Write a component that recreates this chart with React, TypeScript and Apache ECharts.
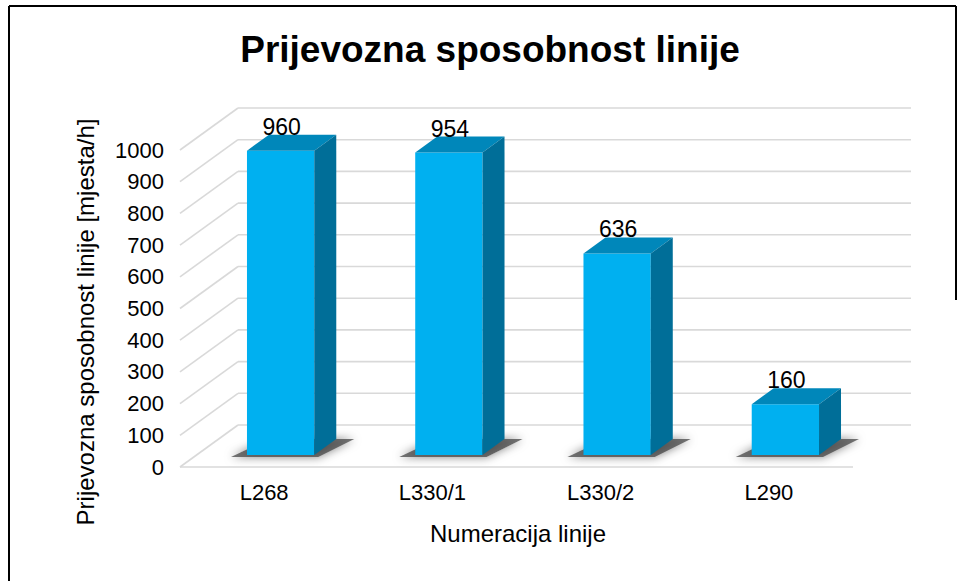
import React, { useEffect, useRef } from "react";
import * as echarts from "echarts";

const categories = ["L268", "L330/1", "L330/2", "L290"];
const values = [960, 954, 636, 160];
const yTicks = [0, 100, 200, 300, 400, 500, 600, 700, 800, 900, 1000];
const chartTitle = "Prijevozna sposobnost linije";
const yAxisTitle = "Prijevozna sposobnost linije [mjesta/h]";
const xAxisTitle = "Numeracija linije";

const FONT = '"Liberation Sans", Arial, sans-serif';

export default function App() {
  const ref = useRef<HTMLDivElement>(null);
  useEffect(() => {
    if (!ref.current) return;
    const chart = echarts.init(ref.current, null, { renderer: "svg" });
    const DX = 58, DY = -42; // depth of the floor / side wall
    const BX = 16.5, BY = -12; // bar front plane offset
    const bdx = 22, bdy = -16; // bar depth
    const option: any = {
      animation: false,
      backgroundColor: "#ffffff",
      grid: { left: 180, right: 105, top: 150, bottom: 114 },
      xAxis: {
        type: "category",
        data: categories,
        axisLine: { show: false },
        axisTick: { show: false },
        axisLabel: { fontSize: 22, color: "#000", fontFamily: FONT, margin: 14 },
      },
      yAxis: {
        type: "value",
        min: 0,
        max: 1000,
        interval: 100,
        axisLine: { show: false },
        axisTick: { show: false },
        splitLine: { show: false },
        axisLabel: {
          fontSize: 22,
          color: "#000",
          fontFamily: FONT,
          margin: 16,
          formatter: (v: number) => String(v),
        },
      },
      graphic: [
        {
          type: "line",
          shape: { x1: 9, y1: 6, x2: 9, y2: 581 },
          style: { stroke: "#000", lineWidth: 2 },
        },
        {
          type: "line",
          shape: { x1: 9, y1: 6, x2: 956, y2: 6 },
          style: { stroke: "#000", lineWidth: 2 },
        },
        {
          type: "line",
          shape: { x1: 956, y1: 6, x2: 956, y2: 300 },
          style: { stroke: "#000", lineWidth: 2 },
        },
        {
          type: "text",
          x: 490,
          y: 49,
          style: {
            text: chartTitle,
            fontSize: 37,
            fontWeight: "bold",
            fontFamily: FONT,
            fill: "#000",
            align: "center",
            verticalAlign: "middle",
          },
        },
        {
          type: "text",
          x: 85,
          y: 322,
          rotation: Math.PI / 2,
          style: {
            text: yAxisTitle,
            fontSize: 24,
            fontFamily: FONT,
            fill: "#000",
            align: "center",
            verticalAlign: "middle",
          },
        },
        {
          type: "text",
          x: 518,
          y: 533,
          style: {
            text: xAxisTitle,
            fontSize: 24,
            fontFamily: FONT,
            fill: "#000",
            align: "center",
            verticalAlign: "middle",
          },
        },
      ],
      series: [
        {
          type: "custom",
          clip: false,
          silent: true,
          data: yTicks.map((v) => [0, v]),
          renderItem: (params: any, api: any) => {
            const v = api.value(1);
            const p = api.coord([0, v]);
            const band = api.size([1, 0])[0];
            const L = p[0] - band / 2;
            const R = api.coord([categories.length - 1, v])[0] + band / 2;
            const y = p[1];
            const st = { stroke: "#D9D9D9", lineWidth: 1.6 };
            const children: any[] = [
              { type: "line", shape: { x1: L, y1: y, x2: L + DX, y2: y + DY }, style: st },
              { type: "line", shape: { x1: L + DX, y1: y + DY, x2: R + DX, y2: y + DY }, style: st },
            ];
            if (v === 0) {
              children.push({ type: "line", shape: { x1: L, y1: y, x2: R, y2: y }, style: st });
            }
            return { type: "group", children };
          },
        },
        {
          type: "custom",
          clip: false,
          data: values.map((v, i) => [i, v]),
          renderItem: (params: any, api: any) => {
            const i = api.value(0);
            const v = api.value(1);
            const c = api.coord([i, v]);
            const c0 = api.coord([i, 0]);
            const band = api.size([1, 0])[0];
            const w = band * 0.4;
            const x1 = c[0] + BX - w / 2;
            const x2 = x1 + w;
            const yt = c[1] + BY;
            const yb = c0[1] + BY;
            return {
              type: "group",
              children: [
                {
                  type: "polygon",
                  shape: {
                    points: [
                      [x1 - 16, yb + 2],
                      [x2 + 4, yb + 2],
                      [x2 + bdx + 18, yb + bdy],
                      [x1 + bdx, yb + bdy],
                    ],
                  },
                  style: {
                    fill: "rgba(60,60,60,0.7)",
                    shadowBlur: 10,
                    shadowColor: "rgba(0,0,0,0.7)",
                  },
                },
                {
                  type: "rect",
                  shape: { x: x1, y: yt, width: w, height: yb - yt },
                  style: { fill: "#00B0F0" },
                },
                {
                  type: "polygon",
                  shape: {
                    points: [
                      [x1, yt],
                      [x2, yt],
                      [x2 + bdx, yt + bdy],
                      [x1 + bdx, yt + bdy],
                    ],
                  },
                  style: { fill: "#0087BA" },
                },
                {
                  type: "polygon",
                  shape: {
                    points: [
                      [x2, yt],
                      [x2 + bdx, yt + bdy],
                      [x2 + bdx, yb + bdy],
                      [x2, yb],
                    ],
                  },
                  style: { fill: "#006E98" },
                },
                {
                  type: "text",
                  x: (x1 + x2) / 2 + 1,
                  y: yt - 24,
                  style: {
                    text: String(v),
                    fontSize: 23,
                    fontFamily: FONT,
                    fill: "#000",
                    align: "center",
                    verticalAlign: "middle",
                  },
                },
              ],
            };
          },
        },
      ],
    };
    chart.setOption(option);
    return () => chart.dispose();
  }, []);
  return (
    <div
      ref={ref}
      style={{ position: "absolute", left: 0, top: 0, width: 958, height: 581 }}
    />
  );
}
